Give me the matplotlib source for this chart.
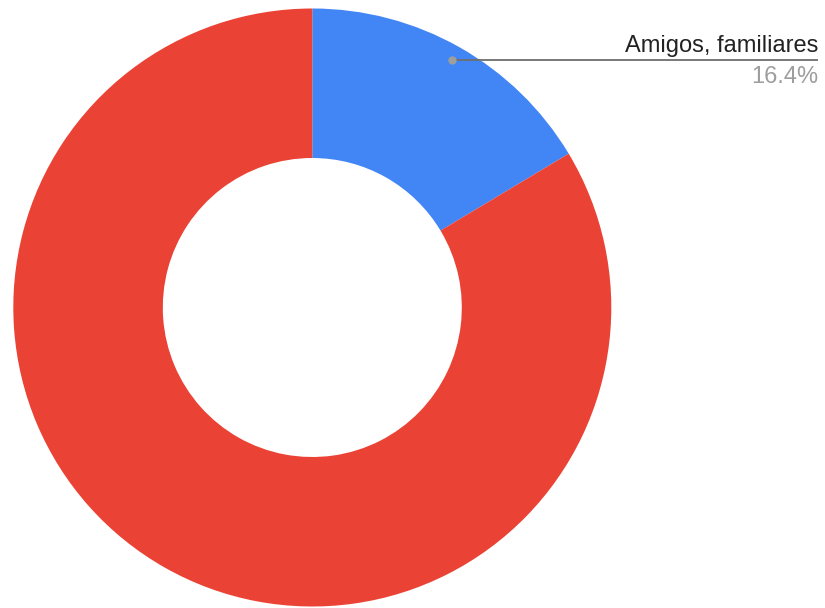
import numpy as np
import matplotlib.pyplot as plt

plt.rcParams['font.family'] = ['Liberation Sans', 'DejaVu Sans']

# Slice data (percent)
categories = ["Amigos, familiares", "Otros"]
shares = [16.4, 83.6]
colors = ["#4285F4", "#EA4335"]

W, H = 825, 608
fig = plt.figure(figsize=(W / 100, H / 100), dpi=100)
ax = fig.add_axes([0, 0, 1, 1])

cx, cy = 312.3, H - 307.5
radius = 299
hole = 0.5

wedges, _ = ax.pie(shares, colors=colors, startangle=90, counterclock=False,
                   center=(cx, cy), radius=radius, frame=True,
                   wedgeprops=dict(width=radius * (1 - hole), linewidth=0))
ax.set_xlim(0, W)
ax.set_ylim(0, H)
ax.set_aspect('equal')
ax.axis('off')

# Leader line and label for the first slice only
w = wedges[0]
mid = np.deg2rad((w.theta1 + w.theta2) / 2)
px = cx + 0.95 * radius * np.cos(mid)
py = cy + 0.95 * radius * np.sin(mid)
x_end = 818
ax.plot([px, x_end], [py, py], color="#6e6e6e", lw=1.3, solid_capstyle='butt')
ax.plot(px, py, 'o', color="#9e9e9e", ms=6, mec='none')
ax.text(x_end, py + 8, categories[0], ha='right', va='baseline',
        fontsize=17, color="#222222")
ax.text(x_end, py - 22.5, f"{shares[0]:.1f}%", ha='right', va='baseline',
        fontsize=17, color="#9e9e9e")

fig.savefig("out.png", dpi=100)
